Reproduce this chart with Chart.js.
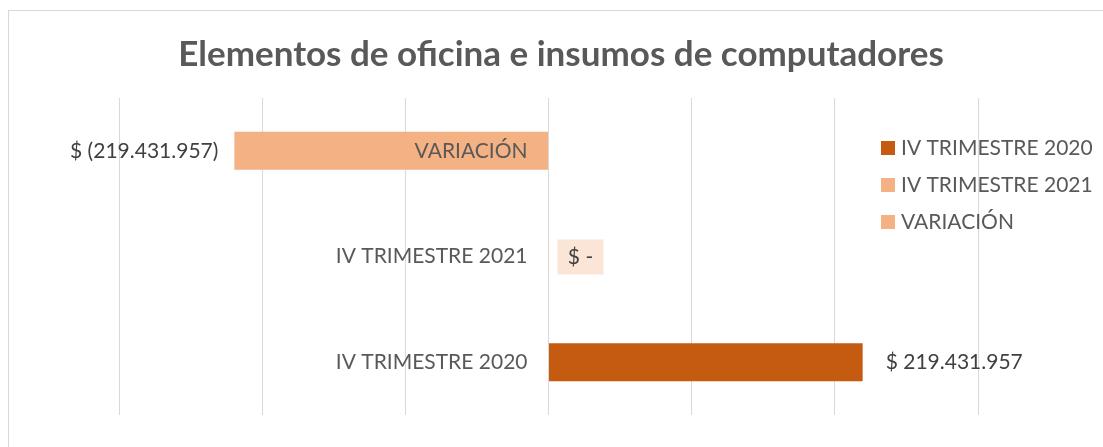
<!DOCTYPE html>
<html>
<head>
<meta charset="utf-8">
<script src="https://cdn.jsdelivr.net/npm/chart.js@4.4.1/dist/chart.umd.min.js"></script>
<style>
html, body { margin: 0; padding: 0; background: #fff; }
#wrap { position: relative; width: 1103px; height: 447px; }
</style>
</head>
<body>
<div id="wrap"><canvas id="Chart" width="1103" height="447"></canvas></div>
<script>
// data
const categories = ['VARIACIÓN', 'IV TRIMESTRE 2021', 'IV TRIMESTRE 2020'];
const values = [-219431957, 0, 219431957];
const barColors = ['#F4B183', '#F4B183', '#C55A11'];
const legendOrder = [2, 1, 0];
const chartTitle = 'Elementos de oficina e insumos de computadores';

const FONT = 'Lato, "Open Sans", sans-serif';
const GRAY = '#595959';

function money(v) {
    if (v === 0) return '$ -';
    const s = Math.abs(v).toString().replace(/\B(?=(\d{3})+(?!\d))/g, '.');
    return v < 0 ? '$ (' + s + ')' : '$ ' + s;
}

// frame around the chart
const framePlugin = {
    id: 'frame',
    beforeDraw(chart) {
        const ctx = chart.ctx;
        ctx.save();
        ctx.strokeStyle = '#d9d9d9';
        ctx.lineWidth = 1;
        ctx.strokeRect(8.5, 10.5, 1200, 1000);
        ctx.restore();
    }
};

// category names next to the zero line + value labels
const labelPlugin = {
    id: 'labels',
    afterDatasetsDraw(chart) {
        const ctx = chart.ctx;
        const xs = chart.scales.x;
        const ys = chart.scales.y;
        const x0 = xs.getPixelForValue(0);
        ctx.save();
        ctx.textBaseline = 'middle';
        categories.forEach((cat, i) => {
            const y = ys.getPixelForValue(i);
            ctx.font = '21px ' + FONT;
            ctx.fillStyle = GRAY;
            ctx.textAlign = 'right';
            ctx.fillText(cat, x0 - 21, y);

            const v = values[i];
            const xe = xs.getPixelForValue(v);
            ctx.fillStyle = '#404040';
            if (v < 0) {
                ctx.textAlign = 'right';
                ctx.fillText(money(v), xe - 16, y);
            } else if (v > 0) {
                ctx.textAlign = 'left';
                ctx.fillText(money(v), xe + 23, y);
            } else {
                ctx.fillStyle = '#FBE5D6';
                ctx.fillRect(x0 + 9, y - 17, 46, 35);
                ctx.fillStyle = '#404040';
                ctx.textAlign = 'center';
                ctx.fillText(money(v), x0 + 32, y + 1);
            }
        });
        ctx.restore();
    },
    afterDraw(chart) {
        const ctx = chart.ctx;
        ctx.save();
        // title
        ctx.font = 'bold 35px ' + FONT;
        ctx.fillStyle = GRAY;
        ctx.textAlign = 'center';
        ctx.textBaseline = 'middle';
        ctx.fillText(chartTitle, 561, 55);
        // legend
        ctx.font = '21px ' + FONT;
        ctx.textAlign = 'left';
        legendOrder.forEach((idx, k) => {
            const y = 148 + k * 37;
            ctx.fillStyle = barColors[idx];
            ctx.fillRect(881, y - 7, 14, 14);
            ctx.fillStyle = GRAY;
            ctx.fillText(categories[idx], 901, y);
        });
        ctx.restore();
    }
};

const chart = new Chart(document.getElementById('Chart'), {
    type: 'bar',
    data: {
        labels: categories,
        datasets: [{
            label: 'Valor',
            data: values,
            backgroundColor: barColors,
            barPercentage: 0.36,
            categoryPercentage: 1.0
        }]
    },
    options: {
        indexAxis: 'y',
        responsive: false,
        animation: false,
        layout: { padding: { left: 119, right: 125, top: 98, bottom: 32 } },
        plugins: {
            legend: { display: false },
            tooltip: { enabled: false }
        },
        scales: {
            x: {
                min: -300000000,
                max: 300000000,
                ticks: { display: false, stepSize: 100000000 },
                grid: { color: '#d9d9d9', drawTicks: false },
                border: { display: false }
            },
            y: { display: false }
        }
    },
    plugins: [framePlugin, labelPlugin]
});
</script>
</body>
</html>
